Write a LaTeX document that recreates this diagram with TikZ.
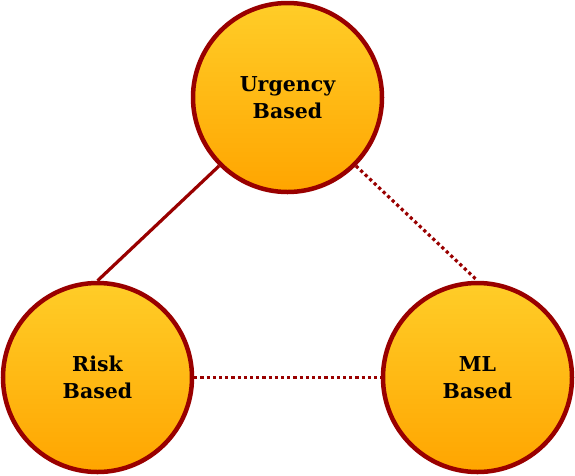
\documentclass[tikz,border=0pt]{standalone}
\usepackage{fontspec}
\setmainfont{DejaVu Serif}
\definecolor{ringred}{HTML}{990000}
\definecolor{fillTop}{HTML}{FFCD28}
\definecolor{fillBot}{HTML}{FFA500}
\begin{document}
\begin{tikzpicture}[x=1pt,y=-1pt]
\tikzstyle{every node}+=[inner sep=0pt]
\tikzstyle{ball}=[circle, draw=ringred, line width=4.5pt, minimum size=189pt,
  top color=fillTop, bottom color=fillBot, align=center,
  font=\fontsize{20.5}{27}\selectfont\bfseries]
\tikzstyle{link}=[draw=ringred, line width=3.2pt]
\tikzstyle{dotlink}=[link, dash pattern=on 3.2pt off 3pt]
\useasboundingbox (0,0) rectangle (575,475);
\node [ball] (urgency) at (287.5,97.5) {Urgency\\Based};
\node [ball] (risk) at (97.5,377.5) {Risk\\Based};
\node [ball] (ml) at (477.5,377.5) {ML\\Based};
\draw [link] (urgency.south west) -- (risk.north);
\draw [dotlink] (urgency.south east) -- (ml.north);
\draw [dotlink] (risk.east) -- (ml.west);
\end{tikzpicture}
\end{document}
